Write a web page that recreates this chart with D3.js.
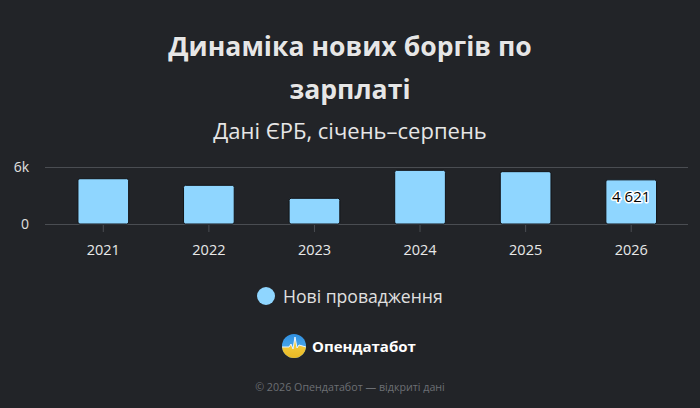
<!DOCTYPE html>
<html><head><meta charset="utf-8">
<script src="https://cdn.jsdelivr.net/npm/d3@7"></script>
<style>
html,body{margin:0;padding:0;background:#222428;}
svg{display:block;font-family:"Open Sans","Noto Sans",sans-serif;}
</style></head>
<body>
<svg id="chart" width="700" height="408"></svg>
<script>
const years = ["2021","2022","2023","2024","2025","2026"];
const values = [4740, 4050, 2690, 5620, 5480, 4621];
const yTicks = [0, 6000];
const tickLabels = ["0", "6k"];
const seriesName = "Нові провадження";
const titleLines = ["Динаміка нових боргів по", "зарплаті"];
const subtitle = "Дані ЄРБ, січень–серпень";
const footer = "© 2026 Опендатабот — відкриті дані";
const labelledIndex = 5;

const svg = d3.select("#chart");
svg.append("rect").attr("width",700).attr("height",408).attr("fill","#222428");

// titles
const tg = svg.append("g");
titleLines.forEach((t,i)=>{
  tg.append("text").attr("x",350).attr("y",56+i*43).attr("text-anchor","middle")
    .attr("font-size",26.6).attr("font-weight",700).attr("fill","#e6e6e6")
    .attr("stroke","#111").attr("stroke-width",0.6).attr("paint-order","stroke")
    .text(t);
});
tg.append("text").attr("x",350).attr("y",139).attr("text-anchor","middle")
  .attr("font-size",22).attr("font-weight",500).attr("fill","#e6e6e6").text(subtitle);

// scales
const x = d3.scaleBand().domain(years).range([50.5,684]).paddingInner(0.52).paddingOuter(0.26);
const y = d3.scaleLinear().domain([0,6000]).range([224,166.7]);

// grid
svg.append("g").selectAll("line").data(yTicks).join("line")
  .attr("x1",45).attr("x2",688).attr("y1",d=>Math.round(y(d))+0.5).attr("y2",d=>Math.round(y(d))+0.5)
  .attr("stroke","#4a4d52").attr("stroke-width",1);

// y labels
svg.append("g").selectAll("text").data(yTicks).join("text")
  .attr("x",29).attr("y",d=>y(d)+5).attr("text-anchor","end")
  .attr("font-size",14).attr("fill","#e0e0e0").text((d,i)=>tickLabels[i]);

// x axis
const xa = svg.append("g").attr("transform","translate(0,224)")
  .call(d3.axisBottom(x).tickSize(8).tickPadding(13));
xa.select(".domain").remove();
xa.selectAll(".tick line").attr("stroke","#4a4d52").attr("y1",1);
xa.selectAll(".tick text").attr("fill","#e8e8e8").attr("font-size",14.5)
  .attr("font-family","'Open Sans','Noto Sans',sans-serif");

// bars
svg.append("g").selectAll("rect").data(values).join("rect")
  .attr("x",(d,i)=>x(years[i])).attr("width",x.bandwidth())
  .attr("y",d=>y(d)).attr("height",d=>y(0)-y(d))
  .attr("rx",2).attr("fill","#8fd6ff").attr("stroke","#111317").attr("stroke-width",1);

// data label
svg.append("text").attr("x",x(years[labelledIndex])+x.bandwidth()/2)
  .attr("y",y(values[labelledIndex])+22).attr("text-anchor","middle")
  .attr("font-size",15).attr("font-weight",500).attr("fill","#000").attr("stroke","#fff").attr("stroke-width",3)
  .attr("stroke-linejoin","round").attr("paint-order","stroke")
  .text(d3.format(",")(values[labelledIndex]).replace(/,/g," "));

// legend
const lg = svg.append("g");
lg.append("circle").attr("cx",266).attr("cy",296).attr("r",9).attr("fill","#8fd6ff");
lg.append("text").attr("x",283).attr("y",303).attr("font-size",17.6).attr("fill","#e0e0e0").text(seriesName);

// logo
const logo = svg.append("g").attr("transform","translate(294,346)");
const defs = svg.append("defs");
const cp = defs.append("clipPath").attr("id","lc");
cp.append("circle").attr("r",12);
const gr = defs.append("linearGradient").attr("id","lgB").attr("x1",0).attr("y1",0).attr("x2",0).attr("y2",1);
gr.append("stop").attr("offset","0").attr("stop-color","#2f8fe0");
gr.append("stop").attr("offset","1").attr("stop-color","#5bb8f2");
const gy = defs.append("linearGradient").attr("id","lgY").attr("x1",0).attr("y1",0).attr("x2",0).attr("y2",1);
gy.append("stop").attr("offset","0").attr("stop-color","#f7d64a");
gy.append("stop").attr("offset","1").attr("stop-color","#e9b824");
const lgc = logo.append("g").attr("clip-path","url(#lc)");
lgc.append("rect").attr("x",-12).attr("y",-12).attr("width",24).attr("height",24).attr("fill","url(#lgB)");
lgc.append("path").attr("d","M-12,1 L-5,1 L-3,-2 L-1,3 L1,-9 L3,2 L5,-1 L12,1 L12,12 L-12,12 Z").attr("fill","url(#lgY)");
lgc.append("path").attr("d","M-12,1 L-5,1 L-3,-2 L-1,3 L1,-9 L3,2 L5,-1 L12,1").attr("fill","none").attr("stroke","#e8f4ff").attr("stroke-width",1);
svg.append("text").attr("x",312).attr("y",352).attr("font-size",15).attr("font-weight",700)
  .attr("fill","#ffffff").text("Опендатабот");

// footer
svg.append("text").attr("x",350).attr("y",391).attr("text-anchor","middle")
  .attr("font-size",10.7).attr("fill","#6c6f74").text(footer);
</script>
</body></html>
